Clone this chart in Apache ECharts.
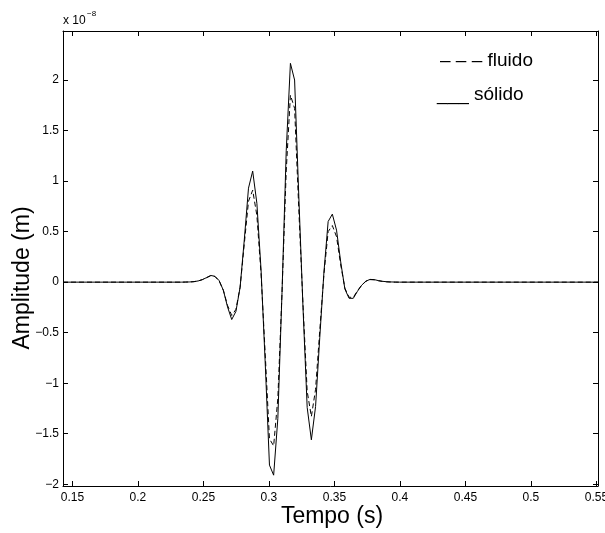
<!DOCTYPE html>
<html><head><meta charset="utf-8">
<script src="https://cdn.jsdelivr.net/npm/echarts@6/dist/echarts.min.js"></script>
<style>html,body{margin:0;padding:0;background:#fff}#c{width:605px;height:533px}</style>
</head><body><div id="c"></div><script>
// time (s)
const time = [0.1428, 0.2332, 0.2364, 0.2396, 0.2428, 0.2460, 0.2492, 0.2524, 0.2556, 0.2588, 0.2620,
  0.2652, 0.2684, 0.2716, 0.2748, 0.2780, 0.2812, 0.2844, 0.2876, 0.2908, 0.2940, 0.2972, 0.3004,
  0.3036, 0.3068, 0.3100, 0.3132, 0.3164, 0.3196, 0.3228, 0.3260, 0.3292, 0.3324, 0.3356, 0.3388,
  0.3420, 0.3452, 0.3484, 0.3516, 0.3548, 0.3580, 0.3612, 0.3644, 0.3676, 0.3708, 0.3740, 0.3772,
  0.3804, 0.3836, 0.3868, 0.3900, 0.3932, 0.3964, 0.3996, 0.5512];
// amplitude, units of 1e-8 m
const solido = [0, 0, 0.001, 0.002, 0.005, 0.012, 0.025, 0.045, 0.066, 0.058, 0.015,
  -0.08, -0.245, -0.37, -0.29, -0.05, 0.42, 0.93, 1.099, 0.78, 0.12, -0.81, -1.81,
  -1.91, -1.35, -0.1, 1.3, 2.165, 2.0, 0.85, -0.25, -1.24, -1.56, -1.23, -0.55,
  0.1, 0.6, 0.673, 0.515, 0.2, -0.07, -0.16, -0.16, -0.09, -0.03, 0.01, 0.027,
  0.025, 0.015, 0.008, 0.004, 0.002, 0.001, 0, 0];
const fluido = [0, 0, 0.001, 0.002, 0.005, 0.012, 0.025, 0.044, 0.064, 0.055, 0.012,
  -0.08, -0.23, -0.33, -0.27, -0.05, 0.38, 0.8, 0.91, 0.66, 0.08, -0.72, -1.55,
  -1.62, -1.15, -0.1, 1.1, 1.85, 1.72, 0.72, -0.22, -1.08, -1.33, -1.06, -0.48,
  0.08, 0.5, 0.56, 0.45, 0.17, -0.06, -0.15, -0.15, -0.085, -0.03, 0.008, 0.025,
  0.023, 0.014, 0.007, 0.003, 0.001, 0, 0, 0];
const xTicks = [0.15, 0.2, 0.25, 0.3, 0.35, 0.4, 0.45, 0.5, 0.55];
const yTicks = [-2, -1.5, -1, -0.5, 0, 0.5, 1, 1.5, 2];
const xRange = [0.1428, 0.5512];
const yRange = [-2.017, 2.485];

const FONT = '"Liberation Sans", Arial, Helvetica, sans-serif';
const chart = echarts.init(document.getElementById('c'), null, {renderer: 'canvas'});
const fmt = v => String(Math.round(v * 1000) / 1000).replace('-', '\u2212');
const baseAxis = {
  type: 'value',
  axisLine: {show: true, onZero: false, lineStyle: {color: '#000', width: 1}},
  axisTick: {show: true, inside: true, length: 5, lineStyle: {color: '#000', width: 1}},
  splitLine: {show: false}
};
chart.setOption({
  animation: false,
  backgroundColor: '#fff',
  grid: {left: 63, top: 31, right: 7, bottom: 47, containLabel: false, outerBoundsMode: 'none'},
  xAxis: [
    Object.assign({}, baseAxis, {
      min: xRange[0], max: xRange[1], position: 'bottom',
      axisTick: Object.assign({}, baseAxis.axisTick, {customValues: xTicks}),
      axisLabel: {customValues: xTicks, formatter: fmt, color: '#000', fontFamily: FONT, fontSize: 12, margin: 6, hideOverlap: false}
    }),
    Object.assign({}, baseAxis, {
      min: xRange[0], max: xRange[1], position: 'top',
      axisTick: Object.assign({}, baseAxis.axisTick, {customValues: xTicks}),
      axisLabel: {show: false}
    })
  ],
  yAxis: [
    Object.assign({}, baseAxis, {
      min: yRange[0], max: yRange[1], position: 'left',
      axisTick: Object.assign({}, baseAxis.axisTick, {customValues: yTicks}),
      axisLabel: {customValues: yTicks, formatter: fmt, color: '#000', fontFamily: FONT, fontSize: 12, margin: 4, hideOverlap: false}
    }),
    Object.assign({}, baseAxis, {
      min: yRange[0], max: yRange[1], position: 'right',
      axisTick: Object.assign({}, baseAxis.axisTick, {customValues: yTicks}),
      axisLabel: {show: false}
    })
  ],
  series: [
    {name: 'fluido', type: 'line', xAxisIndex: 0, yAxisIndex: 0, symbol: 'none', smooth: false,
     lineStyle: {color: '#000', width: 1, type: [5, 3]},
     data: time.map((t, i) => [t, fluido[i]])},
    {name: 'sólido', type: 'line', xAxisIndex: 0, yAxisIndex: 0, symbol: 'none', smooth: false,
     lineStyle: {color: '#000', width: 1, type: 'solid'},
     data: time.map((t, i) => [t, solido[i]])}
  ],
  graphic: [
    {type: 'text', x: 332, y: 517, style: {text: 'Tempo (s)', font: '23px ' + FONT, fill: '#000', verticalAlign: 'middle', align: 'center'}},
    {type: 'text', x: 23, y: 278, rotation: Math.PI / 2, style: {text: 'Amplitude (m)', font: '23px ' + FONT, fill: '#000', verticalAlign: 'middle', align: 'center'}},
    {type: 'text', x: 63, y: 21, style: {text: 'x 10', font: '12px ' + FONT, fill: '#000', verticalAlign: 'middle', align: 'left'}},
    {type: 'text', x: 87, y: 14, style: {text: '\u22128', font: '8px ' + FONT, fill: '#000', verticalAlign: 'middle', align: 'left'}},
    {type: 'text', x: 440, y: 61, style: {text: '\u2013 \u2013 \u2013 fluido', font: '19px ' + FONT, fill: '#000', verticalAlign: 'middle', align: 'left'}},
    {type: 'text', x: 437, y: 95, style: {text: '___ sólido', font: '19px ' + FONT, fill: '#000', verticalAlign: 'middle', align: 'left'}}
  ]
});
</script></body></html>
